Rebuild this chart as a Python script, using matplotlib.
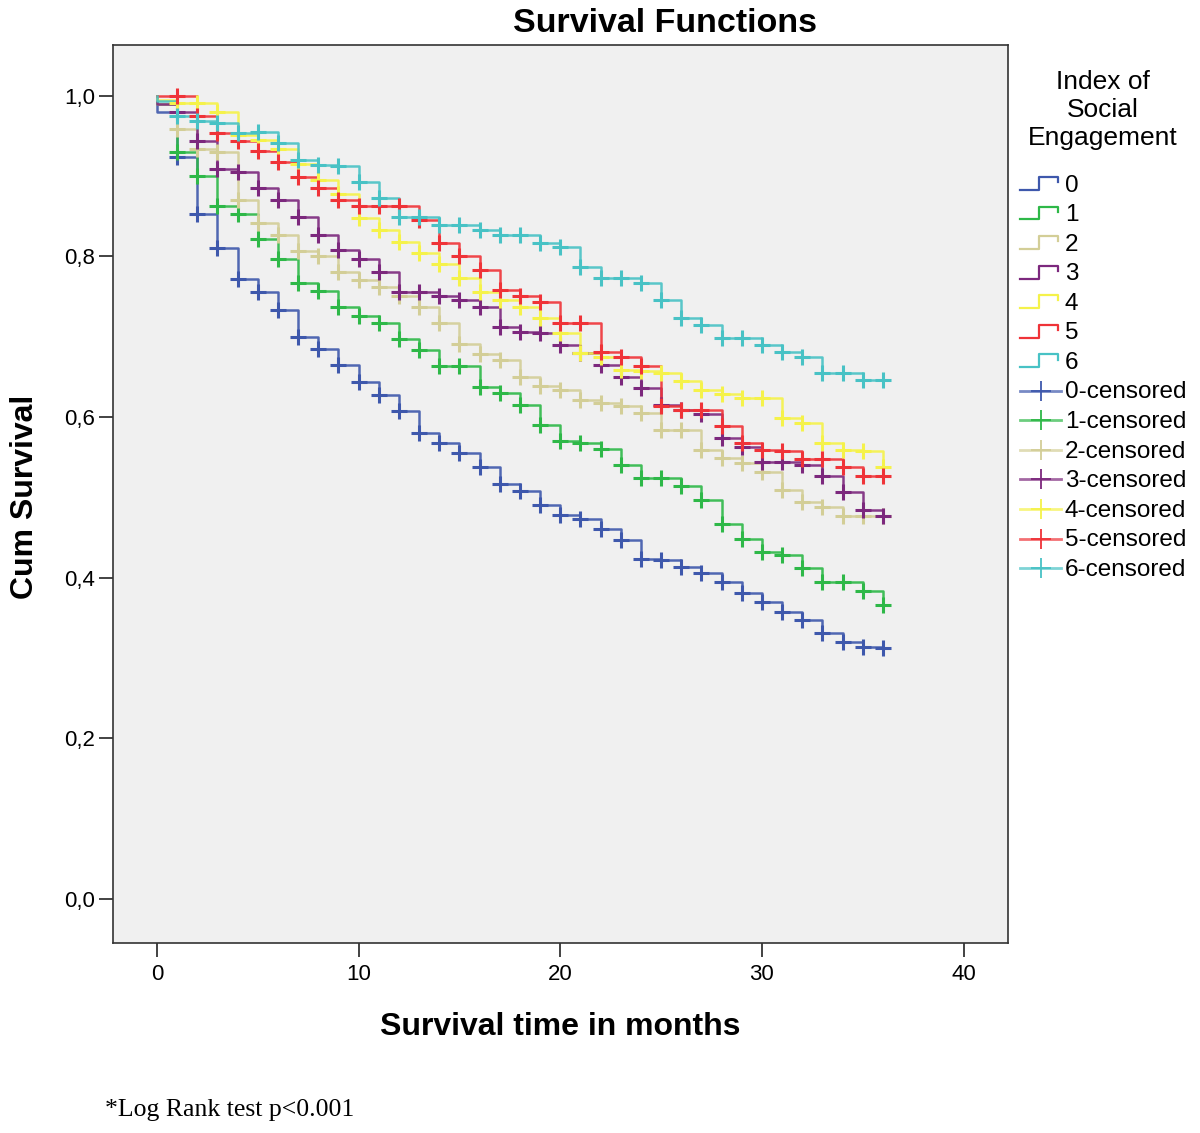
import numpy as np
import matplotlib
matplotlib.use("Agg")
import matplotlib.pyplot as plt
from matplotlib.lines import Line2D
from matplotlib.legend_handler import HandlerBase

plt.rcParams['font.family'] = ['Liberation Sans', 'DejaVu Sans']

# ---- data ----
months = list(range(0, 37))
groups = ["0", "1", "2", "3", "4", "5", "6"]
surv_0 = [0.979, 0.924, 0.853, 0.810, 0.772, 0.755, 0.733, 0.700, 0.685, 0.665,
          0.643, 0.627, 0.607, 0.580, 0.568, 0.555, 0.537, 0.517, 0.508, 0.490,
          0.478, 0.473, 0.460, 0.447, 0.423, 0.422, 0.413, 0.406, 0.394, 0.381,
          0.369, 0.357, 0.347, 0.331, 0.320, 0.314, 0.312]
surv_1 = [0.989, 0.930, 0.900, 0.862, 0.852, 0.822, 0.797, 0.767, 0.757, 0.737,
          0.725, 0.717, 0.697, 0.683, 0.663, 0.663, 0.637, 0.630, 0.615, 0.590,
          0.570, 0.567, 0.560, 0.540, 0.524, 0.524, 0.514, 0.496, 0.467, 0.448,
          0.432, 0.428, 0.412, 0.394, 0.394, 0.383, 0.366]
surv_2 = [0.990, 0.958, 0.933, 0.930, 0.870, 0.842, 0.826, 0.806, 0.800, 0.780,
          0.771, 0.762, 0.750, 0.737, 0.717, 0.691, 0.678, 0.671, 0.650, 0.638,
          0.634, 0.621, 0.617, 0.613, 0.605, 0.584, 0.584, 0.559, 0.549, 0.543,
          0.532, 0.509, 0.494, 0.488, 0.476, 0.476, 0.476]
surv_3 = [0.990, 0.979, 0.943, 0.908, 0.905, 0.885, 0.870, 0.849, 0.827, 0.808,
          0.796, 0.781, 0.755, 0.755, 0.750, 0.746, 0.737, 0.712, 0.706, 0.705,
          0.690, 0.680, 0.665, 0.650, 0.636, 0.615, 0.609, 0.603, 0.574, 0.562,
          0.544, 0.544, 0.540, 0.526, 0.506, 0.484, 0.476]
surv_4 = [0.995, 0.991, 0.991, 0.979, 0.951, 0.945, 0.933, 0.915, 0.895, 0.877,
          0.848, 0.833, 0.818, 0.804, 0.790, 0.773, 0.756, 0.745, 0.737, 0.723,
          0.705, 0.680, 0.675, 0.659, 0.657, 0.655, 0.645, 0.634, 0.628, 0.624,
          0.623, 0.599, 0.592, 0.567, 0.559, 0.558, 0.538]
surv_5 = [1.000, 1.000, 0.974, 0.953, 0.943, 0.931, 0.917, 0.899, 0.885, 0.870,
          0.862, 0.862, 0.862, 0.845, 0.817, 0.800, 0.783, 0.758, 0.750, 0.743,
          0.717, 0.717, 0.681, 0.675, 0.663, 0.614, 0.609, 0.609, 0.589, 0.568,
          0.559, 0.557, 0.548, 0.548, 0.538, 0.526, 0.526]
surv_6 = [0.993, 0.975, 0.969, 0.966, 0.954, 0.955, 0.941, 0.920, 0.914, 0.912,
          0.892, 0.873, 0.849, 0.849, 0.839, 0.839, 0.833, 0.827, 0.827, 0.817,
          0.812, 0.786, 0.773, 0.773, 0.767, 0.745, 0.723, 0.715, 0.698, 0.698,
          0.690, 0.681, 0.674, 0.655, 0.655, 0.646, 0.646]
series = [surv_0, surv_1, surv_2, surv_3, surv_4, surv_5, surv_6]
colors = ["#3E58AC", "#2EB848", "#D3CE97", "#7C287D", "#F5F24A", "#EF3338", "#48C2C5"]
x_ticks = [0, 10, 20, 30, 40]
y_ticks = [0.0, 0.2, 0.4, 0.6, 0.8, 1.0]
y_tick_labels = ["0,0", "0,2", "0,4", "0,6", "0,8", "1,0"]

W, H = 1200, 1133
fig = plt.figure(figsize=(W / 100, H / 100), dpi=100)
ax = fig.add_axes([113 / W, 1 - 943 / H, (1008 - 113) / W, (943 - 45) / H])
ax.set_facecolor("#F0F0F0")

for s, c in zip(series, colors):
    t = np.array([0] + months, dtype=float)
    y = np.array([1.0] + s)
    ax.plot(t, y, drawstyle="steps-post", color=c, lw=1.8, alpha=0.9, zorder=2)
    ax.plot(months[1:], s[1:], linestyle="none", marker="+", color=c,
            markersize=11, mew=2.2, zorder=3)

ax.set_xlim(-2.18, 42.2)
ax.set_ylim(-0.055, 1.063)
ax.set_xticks(x_ticks)
ax.set_yticks(y_ticks)
ax.set_yticklabels(y_tick_labels)
ax.tick_params(direction="out", length=10, width=1.2, colors="#222222",
               labelsize=16, labelcolor="black", top=False, right=False)
ax.tick_params(axis="y", pad=3)
ax.tick_params(axis="x", pad=5)
for sp in ax.spines.values():
    sp.set_color("#333333")
    sp.set_linewidth(1.2)

fig.text(665 / W, 1 - 23 / H, "Survival Functions", ha="center", va="center",
         fontsize=24.5, fontweight="bold")
fig.text(560 / W, 1 - 1027 / H, "Survival time in months", ha="center", va="center",
         fontsize=23, fontweight="bold")
fig.text(25 / W, 1 - 497 / H, "Cum Survival", ha="center", va="center",
         rotation=90, fontsize=23, fontweight="bold")
fig.text(105 / W, 1 - 1110 / H, "*Log Rank test p<0.001", ha="left", va="center",
         fontsize=18.5, family=["Liberation Serif", "DejaVu Serif"])


class StepHandler(HandlerBase):
    def create_artists(self, legend, orig_handle, xdescent, ydescent, width, height,
                       fontsize, trans):
        lo, hi = 0.1 * height, 0.85 * height
        w = 0.92 * width
        xs = [0, 0.5 * w, 0.5 * w, w, w]
        ys = [lo, lo, hi, hi, 0.55 * height]
        ln = Line2D(np.array(xs) - xdescent, np.array(ys) - ydescent,
                    color=orig_handle.get_color(), lw=1.6)
        ln.set_transform(trans)
        return [ln]


class CensHandler(HandlerBase):
    def create_artists(self, legend, orig_handle, xdescent, ydescent, width, height,
                       fontsize, trans):
        y0 = 0.45 * height - ydescent
        ln = Line2D([-xdescent, width - xdescent], [y0, y0],
                    color=orig_handle.get_color(), lw=2.0, alpha=0.7)
        mk = Line2D([0.5 * width - xdescent], [y0], marker="+", markersize=15,
                    mew=1.3, color=orig_handle.get_color(), linestyle="none")
        ln.set_transform(trans)
        mk.set_transform(trans)
        return [ln, mk]


class StepProxy(Line2D):
    pass


class CensProxy(Line2D):
    pass


handles, labels = [], []
for g, c in zip(groups, colors):
    handles.append(StepProxy([], [], color=c))
    labels.append(g)
for g, c in zip(groups, colors):
    handles.append(CensProxy([], [], color=c))
    labels.append(g + "-censored")

leg = fig.legend(handles, labels, loc="upper left",
                 bbox_to_anchor=(1020 / W, 1 - 70 / H),
                 frameon=False, fontsize=17.5, title="Index of\nSocial\nEngagement",
                 title_fontsize=19, handlelength=1.7, handletextpad=0.15,
                 labelspacing=0.31, borderaxespad=0, borderpad=0,
                 handler_map={StepProxy: StepHandler(), CensProxy: CensHandler()})
leg.get_title().set_multialignment("center")
leg._legend_box.sep = 18

fig.savefig("out.png", dpi=100)
